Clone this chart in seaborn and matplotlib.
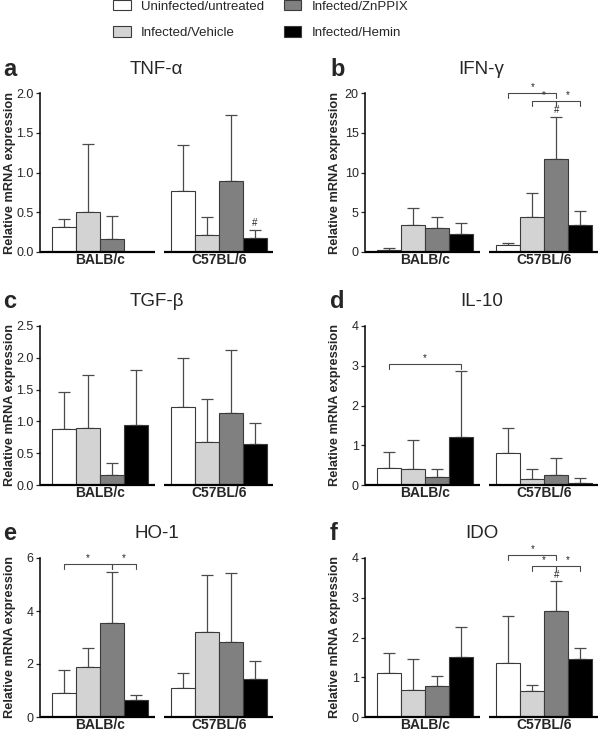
import matplotlib
matplotlib.use("Agg")
import matplotlib.pyplot as plt
from matplotlib.patches import Patch
import numpy as np
import pandas as pd
import seaborn as sns

# groups / treatments
strains = ["BALB/c", "C57BL/6"]
treatments = ["Uninfected/untreated", "Infected/Vehicle", "Infected/ZnPPIX", "Infected/Hemin"]
colors = ["#ffffff", "#d3d3d3", "#808080", "#000000"]

# means and SD, order: BALB/c x4 then C57BL/6 x4
tnf_mean = [0.31, 0.50, 0.16, 0.005, 0.77, 0.21, 0.89, 0.17]
tnf_sd = [0.11, 0.86, 0.29, 0.0, 0.58, 0.23, 0.83, 0.11]
ifn_mean = [0.3, 3.4, 3.0, 2.3, 0.83, 4.4, 11.7, 3.4]
ifn_sd = [0.2, 2.1, 1.45, 1.3, 0.34, 3.0, 5.3, 1.7]
tgf_mean = [0.885, 0.90, 0.155, 0.95, 1.23, 0.67, 1.135, 0.65]
tgf_sd = [0.585, 0.83, 0.185, 0.86, 0.76, 0.68, 0.985, 0.33]
il10_mean = [0.42, 0.41, 0.19, 1.2, 0.8, 0.15, 0.25, 0.06]
il10_sd = [0.42, 0.71, 0.22, 1.68, 0.64, 0.25, 0.43, 0.11]
ho1_mean = [0.9, 1.88, 3.54, 0.65, 1.09, 3.2, 2.82, 1.44]
ho1_sd = [0.89, 0.72, 1.94, 0.17, 0.57, 2.16, 2.61, 0.66]
ido_mean = [1.1, 0.67, 0.77, 1.51, 1.37, 0.65, 2.66, 1.46]
ido_sd = [0.5, 0.79, 0.25, 0.75, 1.16, 0.16, 0.75, 0.28]

# significance brackets: (strain index, treatment i, treatment j, height)
tnf_brackets = []
ifn_brackets = [(1, 0, 2, 20.0), (1, 1, 2, 19.0), (1, 2, 3, 19.0)]
tgf_brackets = []
il10_brackets = [(0, 0, 3, 3.05)]
ho1_brackets = [(0, 0, 2, 5.78), (0, 2, 3, 5.78)]
ido_brackets = [(1, 0, 2, 4.07), (1, 1, 2, 3.8), (1, 2, 3, 3.8)]
# '#' marks: (strain index, treatment index)
tnf_hash = [(1, 3)]
ifn_hash = [(1, 2)]
ido_hash = [(1, 2)]

sns.set_style("ticks")
plt.rcParams["font.family"] = ["Liberation Sans", "DejaVu Sans"]

fig = plt.figure(figsize=(6, 7.33), dpi=100)

panels = [
    ("a", "TNF-α", tnf_mean, tnf_sd, tnf_brackets, tnf_hash, [0, 0.5, 1.0, 1.5, 2.0], "{:.1f}", 0),
    ("b", "IFN-γ", ifn_mean, ifn_sd, ifn_brackets, ifn_hash, [0, 5, 10, 15, 20], "{:g}", 1),
    ("c", "TGF-β", tgf_mean, tgf_sd, tgf_brackets, [], [0, 0.5, 1.0, 1.5, 2.0, 2.5], "{:.1f}", 2),
    ("d", "IL-10", il10_mean, il10_sd, il10_brackets, [], [0, 1, 2, 3, 4], "{:g}", 3),
    ("e", "HO-1", ho1_mean, ho1_sd, ho1_brackets, [], [0, 2, 4, 6], "{:g}", 4),
    ("f", "IDO", ido_mean, ido_sd, ido_brackets, ido_hash, [0, 1, 2, 3, 4], "{:g}", 5),
]

W, H = 600, 733
col_left = [40, 365]
ax_w = 233
row_top = [93, 326, 558]
ax_h = 159

for letter, title, mean, sd, brackets, hashes, yticks, fmt, k in panels:
    col, row = k % 2, k // 2
    left = col_left[col]
    top = row_top[row]
    ax = fig.add_axes([left / W, 1 - (top + ax_h) / H, ax_w / W, ax_h / H])

    df = pd.DataFrame({
        "strain": np.repeat(strains, 4),
        "treatment": treatments * 2,
        "value": mean,
    })
    sns.barplot(data=df, x="strain", y="value", hue="treatment", order=strains,
                hue_order=treatments, palette=colors, errorbar=None,
                edgecolor="#3a3a3a", linewidth=0.8, legend=False, ax=ax, zorder=2)

    bars = sorted([p for p in ax.patches], key=lambda p: p.get_x())
    xs = np.array([p.get_x() + p.get_width() / 2 for p in bars])
    hs = np.array([p.get_height() for p in bars])
    ax.errorbar(xs, hs, yerr=[np.zeros(8), sd], fmt="none", ecolor="#4a4a4a",
                elinewidth=0.9, capsize=4.5, capthick=0.9, zorder=1)

    ymax = yticks[-1]
    ax.set_ylim(0, ymax)
    ax.set_xlim(-0.5, 1.45)
    ax.set_yticks(yticks)
    ax.set_yticklabels([fmt.format(t) for t in yticks], fontsize=9)
    ax.set_xticks([0, 1])
    ax.set_xticklabels(strains, fontsize=10, fontweight="bold")
    ax.tick_params(axis="x", length=0, pad=1)
    ax.tick_params(axis="y", length=3, width=0.9, pad=1.5)
    ax.set_xlabel("")
    ax.set_ylabel("")
    sns.despine(ax=ax, bottom=True)
    ax.spines["left"].set_linewidth(1.1)
    ax.spines["left"].set_color("black")
    # broken baseline under each strain
    for x0, x1 in [(-0.5, 0.46), (0.54, 1.45)]:
        ax.plot([x0, x1], [0, 0], color="black", lw=1.6, clip_on=False,
                solid_capstyle="butt", zorder=3)

    tick = ymax * 0.03
    for s, i, j, yb in brackets:
        xa, xb = xs[s * 4 + i], xs[s * 4 + j]
        ax.plot([xa, xa, xb, xb], [yb - tick, yb, yb, yb - tick], color="#4a4a4a",
                lw=0.8, clip_on=False, zorder=4)
        ax.text((xa + xb) / 2, yb + ymax * 0.005, "*", ha="center", va="bottom",
                fontsize=7)
    for s, i in hashes:
        idx = s * 4 + i
        ax.text(xs[idx], hs[idx] + sd[idx] + ymax * 0.01, "#", ha="center",
                va="bottom", fontsize=7)

    cx = (left + ax_w / 2) / W
    ty = 1 - (top - 24) / H
    fig.text(cx, ty, title, ha="center", va="center", fontsize=13.5)
    fig.text((left - 37 + (2 if col else 0)) / W, ty, letter, ha="left", va="center",
             fontsize=17, fontweight="bold")
    fig.text((left - 30) / W, 1 - (top + ax_h / 2) / H, "Relative mRNA expression",
             rotation=90, ha="center", va="center", fontsize=9.2, fontweight="bold")

handles = [Patch(facecolor=c, edgecolor="#3a3a3a", linewidth=0.8) for c in colors]
fig.legend(handles, treatments, loc="upper center", bbox_to_anchor=(0.435, 1.009),
           ncol=2, frameon=False, fontsize=9.5, handlelength=1.3, handleheight=0.8,
           columnspacing=1.5, labelspacing=1.05, handletextpad=0.8, borderpad=0.0)

fig.savefig("out.png", dpi=100)
